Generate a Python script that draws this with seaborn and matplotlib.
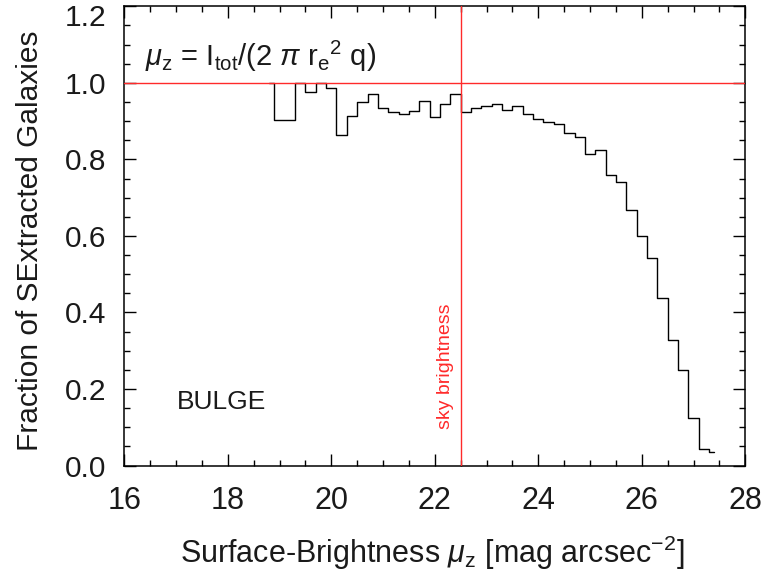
import matplotlib
matplotlib.use("Agg")
import matplotlib.pyplot as plt
from matplotlib.ticker import MultipleLocator
from matplotlib.transforms import ScaledTranslation
import seaborn as sns
import pandas as pd

# ---- data ----
mu_bins = [18.8, 19.0, 19.2, 19.4, 19.6, 19.8,
           20.0, 20.2, 20.4, 20.6, 20.8,
           21.0, 21.2, 21.4, 21.6, 21.8,
           22.0, 22.2, 22.4, 22.6, 22.8,
           23.0, 23.2, 23.4, 23.6, 23.8,
           24.0, 24.2, 24.4, 24.6, 24.8,
           25.0, 25.2, 25.4, 25.6, 25.8,
           26.0, 26.2, 26.4, 26.6, 26.8,
           27.0, 27.2, 27.4]
fraction = [1.000, 0.902, 0.904, 1.000, 0.975, 1.000,
            0.986, 0.864, 0.914, 0.951, 0.972,
            0.935, 0.923, 0.919, 0.926, 0.952,
            0.911, 0.945, 0.972, 0.925, 0.933,
            0.939, 0.946, 0.929, 0.940, 0.919,
            0.905, 0.898, 0.893, 0.870, 0.859,
            0.815, 0.824, 0.758, 0.742, 0.668,
            0.599, 0.542, 0.439, 0.329, 0.249,
            0.125, 0.043, 0.034]
sky_brightness = 22.5
unity = 1.0
x_ticks = [16, 18, 20, 22, 24, 26, 28]
y_ticks = [0.0, 0.2, 0.4, 0.6, 0.8, 1.0, 1.2]

df = pd.DataFrame({"mu": mu_bins, "frac": fraction})

sns.set_theme(style="ticks")
plt.rcParams["font.family"] = ["Liberation Sans", "DejaVu Sans"]
plt.rcParams["mathtext.fontset"] = "custom"
plt.rcParams["mathtext.rm"] = "Liberation Sans"
plt.rcParams["mathtext.it"] = "Liberation Sans:italic"
plt.rcParams["mathtext.sf"] = "Liberation Sans"

TXT = "#1a1a1a"
RED = "#ff2a2a"

fig = plt.figure(figsize=(7.66, 5.80), dpi=100)
ax = fig.add_axes([0.1623, 0.1974, 0.8107, 0.7917])

sns.lineplot(data=df, x="mu", y="frac", ax=ax, color="black", lw=1.0,
             drawstyle="steps-mid", zorder=2)

ax.axhline(unity, color=RED, lw=1.0, zorder=3)
ax.axvline(sky_brightness, color=RED, lw=1.0, zorder=3)

ax.set_xlim(16, 28)
ax.set_ylim(0, 1.2)
ax.set_xticks(x_ticks)
ax.set_yticks(y_ticks)
ax.set_xticklabels([str(t) for t in x_ticks])
ax.set_yticklabels([f"{t:.1f}" for t in y_ticks], va="center_baseline")
ax.xaxis.set_minor_locator(MultipleLocator(0.5))
ax.yaxis.set_minor_locator(MultipleLocator(0.05))

ax.tick_params(which="both", direction="in", top=True, right=True,
               color="black", width=1.0)
ax.tick_params(which="major", length=8.8)
ax.tick_params(which="minor", length=4.5)
ax.tick_params(axis="x", which="major", pad=15, labelsize=22, labelcolor=TXT)
ax.tick_params(axis="y", which="major", pad=13, labelsize=21.5, labelcolor=TXT)

# nudge the top y label down so it stays inside the canvas
top_lbl = ax.get_yticklabels()[-1]
top_lbl.set_transform(top_lbl.get_transform()
                      + ScaledTranslation(0, -6 / 72, fig.dpi_scale_trans))

for s in ax.spines.values():
    s.set_linewidth(1.1)
    s.set_color("black")
    s.set_visible(True)

ax.set_xlabel(r"Surface-Brightness $\mu_{\rm z}$ [mag arcsec$^{-2}$]",
              fontsize=22, color=TXT, va="center")
ax.xaxis.set_label_coords(0.496, -0.19)
ax.set_ylabel("Fraction of SExtracted Galaxies", fontsize=21.5, color=TXT,
              va="center")
ax.yaxis.set_label_coords(-0.152, 0.49)

ax.text(16.4, 1.07,
        r"$\mu_{\rm z}$ = I$_{\rm tot}$/(2 $\pi$ r$_{\rm e}$$^{2}$ q)",
        fontsize=21, color=TXT, ha="left", va="center")
ax.text(17.02, 0.165, "BULGE", fontsize=19, color=TXT,
        ha="left", va="center")
ax.text(22.2, 0.26, "sky brightness", fontsize=14, color=RED,
        rotation=90, ha="center", va="center")

ax.set_facecolor("white")
fig.patch.set_facecolor("white")
fig.savefig("out.png", dpi=100)
